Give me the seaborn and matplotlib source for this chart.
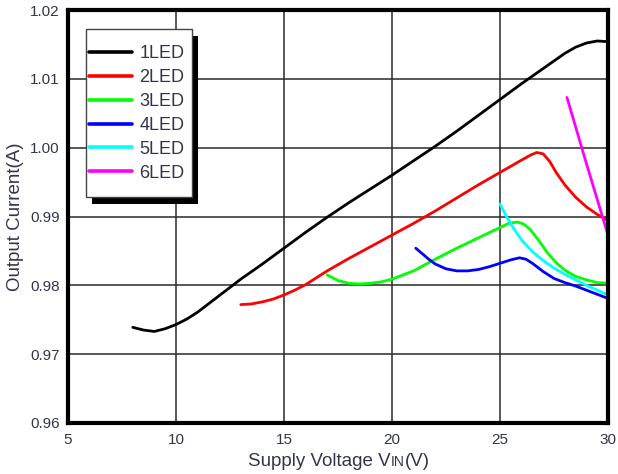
import matplotlib
matplotlib.use("Agg")
import matplotlib.pyplot as plt
from matplotlib.patches import Rectangle
import numpy as np
import pandas as pd
import seaborn as sns

# Output current vs. supply voltage for 1..6 LED strings
v1 = [8.0, 8.5, 9.0, 9.5, 10.0, 10.5, 11.0, 11.5, 12.0, 13.0, 14.0, 15.0, 16.0, 17.0, 18.0,
      19.0, 20.0, 21.0, 22.0, 23.0, 24.0, 25.0, 26.0, 27.0, 27.5, 28.0, 28.5, 29.0, 29.5, 30.0]
i1 = [0.9739, 0.9735, 0.9733, 0.9737, 0.9743, 0.9751, 0.9761, 0.9773, 0.9785, 0.9809,
      0.9831, 0.9854, 0.9877, 0.9899, 0.9920, 0.9940, 0.9960, 0.9981, 1.0002, 1.0024,
      1.0047, 1.0070, 1.0093, 1.0115, 1.0126, 1.0137, 1.0146, 1.0152, 1.0155, 1.0154]

v2 = [13.0, 13.5, 14.0, 14.5, 15.0, 15.5, 16.0, 16.5, 17.0, 18.0, 19.0, 20.0, 21.0, 22.0,
      23.0, 24.0, 25.0, 25.5, 26.0, 26.4, 26.7, 27.0, 27.3, 27.6, 28.0, 28.5, 29.0, 29.5, 30.0]
i2 = [0.9772, 0.9773, 0.9776, 0.9780, 0.9786, 0.9793, 0.9801, 0.9811, 0.9821, 0.9839,
      0.9856, 0.9873, 0.9890, 0.9908, 0.9927, 0.9946, 0.9964, 0.9973, 0.9982, 0.9989,
      0.9993, 0.9991, 0.9980, 0.9964, 0.9946, 0.9928, 0.9914, 0.9903, 0.9894]

v3 = [17.0, 17.5, 18.0, 18.5, 19.0, 19.5, 20.0, 21.0, 22.0, 23.0, 24.0, 25.0, 25.4, 25.8,
      26.1, 26.4, 26.8, 27.2, 27.6, 28.0, 28.5, 29.0, 29.5, 30.0]
i3 = [0.9815, 0.9807, 0.9803, 0.9802, 0.9803, 0.9805, 0.9809, 0.9821, 0.9838, 0.9854,
      0.9869, 0.9884, 0.9890, 0.9892, 0.9889, 0.9881, 0.9865, 0.9847, 0.9833, 0.9822,
      0.9813, 0.9808, 0.9804, 0.9803]

v4 = [21.1, 21.4, 21.7, 22.0, 22.5, 23.0, 23.5, 24.0, 24.5, 25.0, 25.5, 25.9, 26.2, 26.5,
      27.0, 27.5, 28.0, 28.5, 29.0, 29.5, 30.0]
i4 = [0.9854, 0.9846, 0.9838, 0.9831, 0.9824, 0.9821, 0.9821, 0.9823, 0.9827, 0.9832,
      0.9837, 0.9840, 0.9838, 0.9832, 0.9820, 0.9810, 0.9804, 0.9799, 0.9793, 0.9787, 0.9781]

v5 = [25.0, 25.3, 25.6, 26.0, 26.5, 27.0, 27.5, 28.0, 28.5, 29.0, 29.5, 30.0]
i5 = [0.9918, 0.9900, 0.9884, 0.9866, 0.9849, 0.9836, 0.9825, 0.9816, 0.9808, 0.9800,
      0.9793, 0.9786]

v6 = [28.1, 29.0, 30.0]
i6 = [1.0073, 0.9977, 0.9873]

series = ["1LED", "2LED", "3LED", "4LED", "5LED", "6LED"]
colors = ["#000000", "#ff0000", "#00ff00", "#0000ff", "#00ffff", "#ff00ff"]

x_ticks = [5, 10, 15, 20, 25, 30]
y_ticks = [0.96, 0.97, 0.98, 0.99, 1.00, 1.01, 1.02]

frames = []
for name, vs, cs in zip(series, [v1, v2, v3, v4, v5, v6], [i1, i2, i3, i4, i5, i6]):
    frames.append(pd.DataFrame({"vin": vs, "iout": cs, "string": name}))
df = pd.concat(frames, ignore_index=True)

sns.set_style("white")
plt.rcParams["font.family"] = ["Liberation Sans", "DejaVu Sans"]
text_color = "#33354a"

W, H = 618, 474
fig = plt.figure(figsize=(W / 100, H / 100), dpi=100)
ax = fig.add_axes([68 / W, 1 - 423 / H, 540 / W, 413 / H])

sns.lineplot(data=df, x="vin", y="iout", hue="string", hue_order=series,
             palette=dict(zip(series, colors)), linewidth=2.0, sort=False,
             estimator=None, ax=ax)

ax.set_xlim(5, 30)
ax.set_ylim(0.96, 1.02)
ax.set_xticks(x_ticks)
ax.set_xticklabels([str(t) for t in x_ticks])
ax.set_yticks(y_ticks)
ax.set_yticklabels([f"{t:.2f}" for t in y_ticks])
ax.tick_params(length=0, labelsize=11, labelcolor=text_color)
ax.tick_params(axis="x", pad=7)
ax.tick_params(axis="y", pad=6)
ax.grid(True, color="#2a2a2a", linewidth=1.1)
ax.set_axisbelow(True)
for sp in ax.spines.values():
    sp.set_visible(True)
    sp.set_color("black")
    sp.set_linewidth(3.0)
ax.set_xlabel("")
ax.set_ylabel("Output Current(A)", fontsize=13.5, color=text_color, labelpad=4)


def px_box(left, top, right, bottom):
    """Figure-fraction rectangle from pixel edges measured from the top-left."""
    return (left / W, 1 - bottom / H), (right - left) / W, (bottom - top) / H


# legend box with a solid black drop shadow
(sx, sy), sw, sh = px_box(92, 36, 198, 204)
fig.patches.append(Rectangle((sx, sy), sw, sh, transform=fig.transFigure,
                             facecolor="black", edgecolor="none", zorder=2))
(bx, by), bw, bh = px_box(86, 29, 192, 197)
fig.patches.append(Rectangle((bx, by), bw, bh, transform=fig.transFigure,
                             facecolor="white", edgecolor="#444444", linewidth=1.0,
                             zorder=3))

old = ax.get_legend()
handles = old.legend_handles
labels = [t.get_text() for t in old.get_texts()]
old.remove()
leg = fig.legend(handles, labels, loc="upper left",
                 bbox_to_anchor=(89 / W, 1 - 45 / H), bbox_transform=fig.transFigure,
                 fontsize=13, frameon=False, borderpad=0, labelspacing=0.385,
                 handlelength=2.4, handletextpad=0.38, borderaxespad=0)
leg.set_zorder(4)
for h in leg.legend_handles:
    h.set_linewidth(2.6)
for t in leg.get_texts():
    t.set_color(text_color)

ax.set_zorder(1)

# x-axis label: "Supply Voltage V" + small-caps "IN" + "(V)"
renderer = fig.canvas.get_renderer()
inv = fig.transFigure.inverted()
base_y = 1 - 466 / H
t1 = fig.text(248 / W, base_y, "Supply Voltage V", fontsize=13.5, color=text_color,
              va="baseline", ha="left")
e1 = t1.get_window_extent(renderer)
t2 = fig.text(inv.transform((e1.x1, 0))[0], base_y, "IN", fontsize=10, color=text_color,
              va="baseline", ha="left")
e2 = t2.get_window_extent(renderer)
fig.text(inv.transform((e2.x1, 0))[0], base_y, "(V)", fontsize=13.5, color=text_color,
         va="baseline", ha="left")

fig.savefig("out.png", dpi=100)
